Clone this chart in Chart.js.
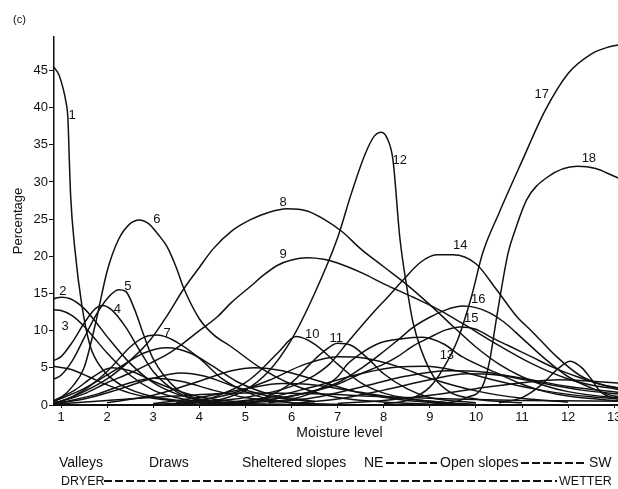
<!DOCTYPE html>
<html><head><meta charset="utf-8">
<script src="https://cdn.jsdelivr.net/npm/chart.js@4.4.1/dist/chart.umd.min.js"></script>
<style>
html,body{margin:0;padding:0;background:#fff;overflow:hidden;width:618px;height:489px;}
#wrap{position:relative;width:618px;height:489px;overflow:hidden;background:#fff;}
canvas{position:absolute;left:0;top:0;}
.t{position:absolute;font-family:"Liberation Sans",Arial,Helvetica,sans-serif;font-size:14px;color:#111;white-space:nowrap;line-height:16px;}
.d{position:absolute;height:2px;background:repeating-linear-gradient(90deg,#111 0 8px,transparent 8px 11px);}
</style></head><body>
<div id="wrap">
<canvas id="c" width="640" height="489"></canvas>
<div class="t" style="left:13px;top:11px;font-size:11px;">(c)</div>
<div class="t" style="left:59px;top:454px;">Valleys</div>
<div class="t" style="left:149px;top:454px;">Draws</div>
<div class="t" style="left:242px;top:454px;">Sheltered slopes</div>
<div class="t" style="left:364px;top:454px;">NE</div>
<div class="d" style="left:386px;top:462px;width:51px;"></div>
<div class="t" style="left:440px;top:454px;">Open slopes</div>
<div class="d" style="left:521px;top:462px;width:64px;"></div>
<div class="t" style="left:589px;top:454px;">SW</div>
<div class="t" style="left:61px;top:473px;font-size:12.5px;">DRYER</div>
<div class="d" style="left:104px;top:480px;width:453px;"></div>
<div class="t" style="left:559px;top:473px;font-size:12.5px;">WETTER</div>
</div>
<script>
// Tick values
const xTicks = [1,2,3,4,5,6,7,8,9,10,11,12,13];
const yTicks = [0,5,10,15,20,25,30,35,40,45];

// Labelled curves: [moisture level, percentage]
const curve1 = [[0.85,45.4],[0.95,44.5],[1.04,42.7],[1.1,41],[1.15,38.5],[1.18,33],[1.21,28],[1.3,21],[1.45,13.5],[1.63,8],[1.9,4.8],[2.3,2.7],[3,1.1],[4,0.4],[5,0.15],[7,0.05]];
const curve2 = [[0.85,14.3],[1,14.5],[1.2,14.3],[1.5,13],[1.75,11.2],[2,9.2],[2.5,5.6],[3,3],[3.5,1.5],[4,0.7],[5,0.2],[6,0.05]];
const curve3 = [[0.85,12.8],[1,12.7],[1.25,12],[1.5,10.6],[1.75,8.8],[2,7],[2.5,4],[3,2],[3.5,1],[4,0.4],[5,0.1]];
const curve4 = [[0.85,6],[1,6.5],[1.25,8.5],[1.5,11],[1.75,13],[1.9,13.4],[2.1,12.8],[2.4,10.5],[2.7,7.4],[3,4.5],[3.5,1.8],[4,0.6],[5,0.1]];
const curve5 = [[0.85,3.5],[1,4],[1.25,6],[1.5,9],[1.75,12],[2,14.3],[2.25,15.5],[2.4,15.3],[2.6,12.8],[2.8,9.3],[3,6.2],[3.5,2.2],[4,0.8],[5,0.2]];
const curve6 = [[0.85,0.5],[1,1],[1.25,2.5],[1.5,5],[1.75,11],[2,18],[2.25,22.3],[2.5,24.4],[2.7,24.9],[2.9,24.4],[3.1,23],[3.3,21.3],[3.5,18.5],[3.65,15.9],[4,11.6],[4.3,9.5],[4.7,7.8],[5.3,5.1],[6,2.8],[7,1],[8,0.4],[9,0.1]];
const curve7 = [[0.85,0.3],[1,0.5],[1.5,2],[2,4.5],[2.5,7.8],[2.8,9.1],[3.1,9.4],[3.5,8.5],[4,6.3],[4.5,3.5],[5,1.8],[5.5,0.8],[6,0.3],[7,0.1]];
const curve8 = [[0.85,0.3],[1,0.5],[1.5,1.8],[2,3.5],[2.5,6],[2.93,8.7],[3.3,12],[3.65,15.5],[4,18.5],[4.3,21],[4.7,23.4],[5.1,24.9],[5.5,25.9],[5.9,26.4],[6.34,26.1],[6.7,25],[7.1,23.3],[7.5,21],[8,18.6],[8.5,16.2],[9,13.5],[9.5,10.6],[10,7.8],[10.5,5.5],[11,3.8],[11.5,2.6],[12,1.8],[13,1],[13.25,0.9]];
const curve9 = [[0.85,0.3],[1,0.5],[1.5,1.5],[2,3],[2.5,4.3],[2.93,5.6],[3.3,6.8],[3.65,8.3],[4,10],[4.38,11.8],[4.7,13.8],[5.1,15.9],[5.4,17.5],[5.7,18.8],[6,19.5],[6.34,19.8],[6.7,19.6],[7,19.1],[7.55,17.7],[8,16.3],[8.64,14.5],[9.2,12.8],[9.7,11],[10.5,8],[11.2,5.6],[12,3.5],[12.5,2.7],[13,2.2],[13.25,2]];
const curve10 = [[3,0.1],[4,0.5],[4.5,1.5],[5,3],[5.3,4.5],[5.7,7],[6.1,9.2],[6.5,8.2],[7,5.5],[7.5,3],[8,1.6],[9,0.5],[10,0.1]];
const curve11 = [[4,0.1],[5,0.5],[5.5,1.2],[6,3],[6.4,5.5],[6.7,7.2],[7,8.3],[7.3,8],[7.7,6],[8,4.2],[8.5,2.2],[9,1],[10,0.3]];
const curve12 = [[3,0.05],[4,0.3],[4.5,0.8],[5,2],[5.5,4.5],[6,8.8],[6.5,15],[7,22.5],[7.3,28.5],[7.6,33.8],[7.8,36.2],[7.95,36.7],[8.08,35.8],[8.2,33],[8.35,22.5],[8.5,15.9],[8.64,11],[9,4.7],[9.37,2],[10,0.8],[11,0.3]];
const curve13 = [[5,0.3],[6,0.8],[6.5,1.8],[7,3.8],[7.2,5.4],[7.5,6.9],[7.9,8.3],[8.4,8.9],[8.85,9.1],[9.3,8.2],[9.7,6.5],[10.45,4.3],[11,2.8],[11.5,1.8],[12,1.2],[13,0.6],[13.25,0.5]];
const curve14 = [[4,0.3],[5,1],[6,2.5],[6.5,4],[6.84,5.6],[7.2,8.3],[7.5,10.5],[7.77,12.4],[8.1,14.6],[8.42,16.8],[8.8,19.2],[9.15,20.2],[9.5,20.2],[10,19],[10.45,15.5],[10.9,11.8],[11.2,10],[11.75,6.5],[12.25,4],[12.7,2.8],[13.25,2.1]];
const curve15 = [[5,0.3],[6,1.2],[7,2.8],[7.5,4.2],[8,5.5],[8.3,6.5],[8.65,8],[9,9.1],[9.35,10.1],[9.66,10.5],[10,10.2],[10.3,9.2],[10.7,8],[11.2,6.5],[11.7,5],[12.2,3.8],[12.7,2.8],[13.25,2.1]];
const curve16 = [[5,0.3],[6,1.2],[7,3],[7.55,5.1],[8,7.2],[8.3,8.7],[8.65,10.5],[9,11.8],[9.35,12.8],[9.72,13.3],[10,13.1],[10.3,12.4],[10.6,11.2],[11,9],[11.5,6.2],[12,3.8],[12.5,2.3],[13,1.2],[13.25,1]];
const curve17 = [[8,0.2],[8.5,0.6],[9,2.4],[9.3,5],[9.6,8.7],[9.9,14.5],[10.15,20.5],[10.5,25.8],[11,32.8],[11.5,39.6],[12,44.6],[12.5,47.2],[12.85,48.1],[13.25,48.6]];
const curve18 = [[9,0.1],[9.5,0.4],[9.8,1],[10.15,2.6],[10.3,6],[10.45,11.8],[10.7,20.5],[10.85,23.5],[11.1,27.6],[11.54,30.6],[12.2,32.1],[12.6,31.8],[12.95,30.9],[13.25,30.1]];

// Unlabelled curves
const bump12 = [[10.5,0.3],[11,1],[11.4,2.6],[11.8,5],[12.05,5.9],[12.3,5],[12.5,3.5],[12.7,1.8],[13,0.9],[13.25,0.7]];
const bg1 = [[0.85,5.2],[1.2,4.8],[1.6,3.8],[2,2.7],[2.5,1.6],[3,0.9],[4,0.3],[5,0.1]];
const bg2 = [[0.85,0.6],[1.3,2],[1.7,3.8],[2.1,5],[2.5,4.6],[3,3.2],[3.5,2],[4,1.1],[5,0.3]];
const bg3 = [[0.85,0.2],[1.5,0.8],[2.2,2],[3,3.6],[3.6,4.3],[4.1,3.9],[4.8,2.4],[5.5,1.2],[6.5,0.4]];
const bg4 = [[0.85,0.5],[1.5,2.2],[2.2,4.8],[2.8,7],[3.3,7.7],[3.8,7],[4.3,5.2],[4.8,3.2],[5.5,1.5],[6.5,0.5]];
const bg5 = [[2,0.3],[3,1.3],[4,3.2],[4.7,4.6],[5.2,5],[5.8,4.6],[6.5,3.4],[7.5,1.6],[8.5,0.6],[9.5,0.2]];
const bg6 = [[3.5,0.3],[4.5,1.2],[5.5,3.3],[6.3,5.5],[7,6.5],[7.6,6.3],[8.3,5.2],[9,3.6],[10,1.9],[11,0.9],[12,0.4]];
const bg7 = [[4.5,0.3],[5.5,1],[6.5,2.5],[7.5,4.2],[8.3,5.1],[8.9,5.2],[9.6,4.6],[10.5,3.2],[11.5,1.9],[12.5,1.1],[13.25,0.8]];
const bg8 = [[5.5,0.3],[6.5,1],[7.5,2.4],[8.5,3.9],[9.4,4.6],[10.2,4.4],[11,3.6],[12,2.5],[13.25,1.6]];
const bg9 = [[7,0.2],[8,0.6],[9,1.3],[10,2.2],[11,3],[11.8,3.4],[12.5,3.2],[13.25,2.9]];
const bg10 = [[3,0.2],[4,1],[5,2.2],[5.8,2.9],[6.5,2.7],[7.5,1.7],[8.5,0.8],[9.5,0.3]];
const bg11 = [[0.85,0.1],[2,0.6],[3.5,1.2],[5,1.6],[6.5,1.5],[8,1.1],[9.5,0.8],[11,0.6],[13.25,0.5]];
const bg12 = [[6,0.2],[7,0.8],[8,2],[9,3.4],[9.8,4.2],[10.5,4],[11.3,3.1],[12.3,2],[13.25,1.4]];
const bg13 = [[1,0.3],[1.8,1.5],[2.5,3],[3,3.6],[3.6,3.2],[4.3,2],[5,1],[6,0.3]];

// Curve number labels and where they sit (data units)
const curveNames = ['1','2','3','4','5','6','7','8','9','10','11','12','13','14','15','16','17','18'];
const labelX = [1.24,1.04,1.09,2.22,2.45,3.08,3.3,5.82,5.82,6.45,6.97,8.35,9.37,9.66,9.9,10.05,11.43,12.45];
const labelY = [39,15.3,10.6,12.8,15.9,24.9,9.6,27.3,20.2,9.5,9.0,32.9,6.7,21.5,11.6,14.2,41.8,33.2];

const allCurves = [curve1,curve2,curve3,curve4,curve5,curve6,curve7,curve8,curve9,curve10,curve11,curve12,curve13,curve14,curve15,curve16,curve17,curve18,bump12,bg1,bg2,bg3,bg4,bg5,bg6,bg7,bg8,bg9,bg10,bg11,bg12,bg13];

const FONT = '"Liberation Sans", Arial, Helvetica, sans-serif';
const INK = '#111';

const datasets = allCurves.map(c => ({
  data: c.map(p => ({x: p[0], y: p[1]})),
  borderColor: INK,
  borderWidth: 1.5,
  pointRadius: 0,
  fill: false,
  cubicInterpolationMode: 'monotone'
}));

const labelPlugin = {
  id: 'curveLabels',
  afterDatasetsDraw(chart) {
    const {ctx, scales} = chart;
    ctx.save();
    ctx.font = '13px ' + FONT;
    ctx.fillStyle = INK;
    ctx.textAlign = 'center';
    ctx.textBaseline = 'middle';
    curveNames.forEach((t, i) => {
      ctx.fillText(t, scales.x.getPixelForValue(labelX[i]), scales.y.getPixelForValue(labelY[i]));
    });
    ctx.restore();
  }
};

new Chart(document.getElementById('c').getContext('2d'), {
  type: 'line',
  data: {datasets},
  options: {
    responsive: false,
    animation: false,
    devicePixelRatio: 1,
    layout: {padding: {left: 0, right: 15, top: 37, bottom: 0}},
    plugins: {legend: {display: false}, tooltip: {enabled: false}},
    scales: {
      x: {
        type: 'linear', min: 0.848, max: 13.234,
        afterBuildTicks: a => { a.ticks = xTicks.map(v => ({value: v})); },
        afterFit: s => { s.height = 84; },
        grid: {drawOnChartArea: false, drawTicks: true, tickLength: 3, color: INK, lineWidth: 1},
        border: {display: true, color: INK, width: 2},
        ticks: {color: INK, font: {family: FONT, size: 13}, padding: 2, maxRotation: 0, autoSkip: false},
        title: {display: true, text: 'Moisture level', color: INK, font: {family: FONT, size: 14}, padding: {top: 0, bottom: 47}}
      },
      y: {
        min: 0, max: 49.5,
        afterBuildTicks: a => { a.ticks = yTicks.map(v => ({value: v})); },
        afterFit: s => { s.width = 54; },
        grid: {drawOnChartArea: false, drawTicks: true, tickLength: 5, color: INK, lineWidth: 1},
        border: {display: true, color: INK, width: 1.5},
        ticks: {color: INK, font: {family: FONT, size: 13}, padding: 1},
        title: {display: true, text: 'Percentage', color: INK, font: {family: FONT, size: 13}, padding: {top: 11, bottom: 0}}
      }
    }
  },
  plugins: [labelPlugin]
});
</script>
</body></html>
